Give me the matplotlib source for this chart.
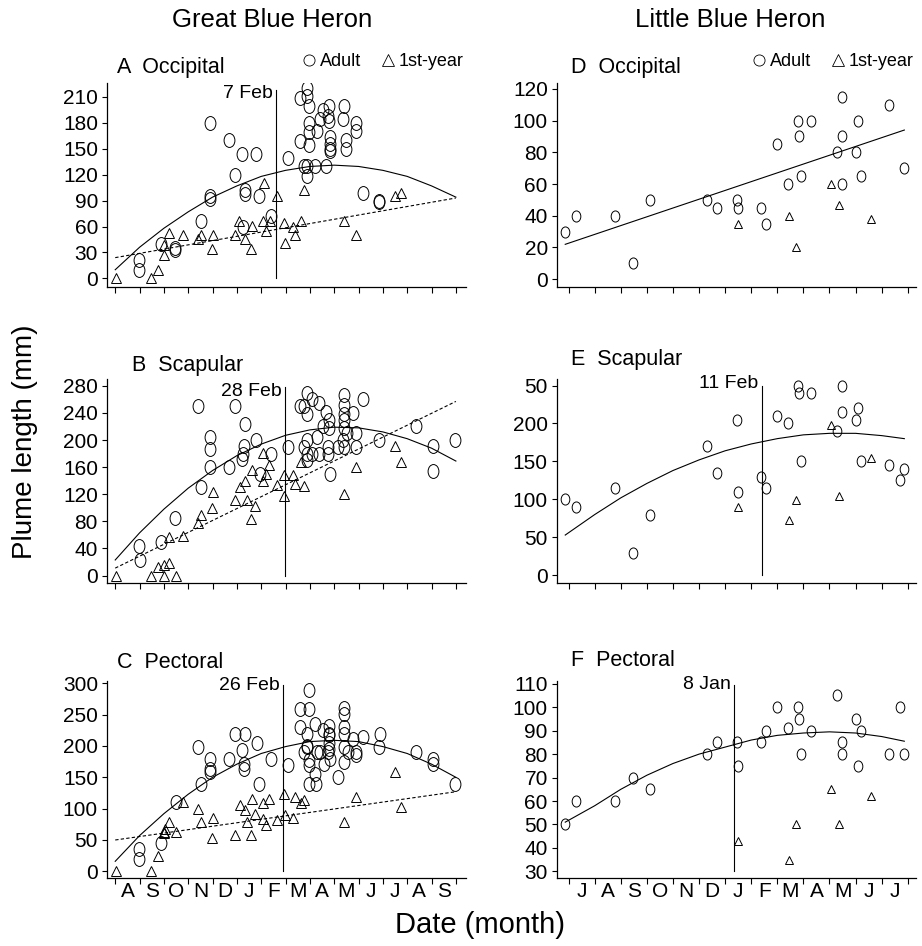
import matplotlib
matplotlib.use("Agg")
import matplotlib.pyplot as plt
from matplotlib.path import Path
from matplotlib.transforms import Affine2D
from matplotlib.lines import Line2D

plt.rcParams['font.family'] = ['Liberation Sans', 'DejaVu Sans']

# months since 1 Aug (Great Blue Heron) / 1 Jul (Little Blue Heron)
gbh_months = ['A', 'S', 'O', 'N', 'D', 'J', 'F', 'M', 'A', 'M', 'J', 'J', 'A', 'S']
lbh_months = ['J', 'A', 'S', 'O', 'N', 'D', 'J', 'F', 'M', 'A', 'M', 'J', 'J']

# ---- Panel A: GBH occipital
a_ad_x = [0.96, 0.96, 1.9, 2.46, 2.46, 3.54, 3.9, 3.9, 3.9, 4.66, 4.93, 5.23, 5.33, 5.33, 5.26,
          5.8, 5.9, 6.4, 7.1, 7.6, 7.6, 7.9, 7.9, 7.95, 7.95, 7.95, 7.98, 7.75, 7.9, 7.9, 8.2,
          8.3, 8.4, 8.54, 8.65, 8.78, 8.75, 8.78, 8.84, 8.84, 8.84, 8.84, 9.4, 9.36, 9.47, 9.47,
          9.88, 9.88, 10.2, 10.86, 10.86]
a_ad_y = [21, 10, 40, 35, 33, 66, 180, 95, 92, 160, 120, 144, 102, 98, 60,
          144, 95, 72, 139, 159, 209, 220, 211, 199, 180, 169, 154, 130, 130, 119, 130,
          170, 184, 195, 130, 200, 188, 182, 164, 155, 150, 147, 200, 184, 160, 150,
          180, 170, 99, 90, 88]
a_fy_x = [0.04, 1.46, 1.76, 2.0, 2.0, 2.23, 2.8, 3.4, 3.54, 3.98, 4.0, 4.93, 5.1, 5.35, 5.6,
          5.64, 6.08, 6.19, 6.35, 6.1, 6.63, 6.93, 6.97, 7.3, 7.4, 7.65, 7.76, 9.4, 9.88,
          11.5, 11.75]
a_fy_y = [0, 0, 10, 27, 39, 52, 50, 45, 50, 34, 50, 50, 66, 45, 34,
          61, 66, 55, 66, 110, 95, 64, 41, 60, 50, 66, 102, 66, 50,
          95, 99]
a_fit_x = [0, 1, 2, 3, 4, 5, 6, 7, 8, 9, 10, 11, 12, 13, 14]
a_fit_ad = [10, 36, 58, 77, 94, 107, 118, 125, 129.5, 131, 129.5, 125, 118, 107, 94]
a_fit_fy_x = [0, 14]
a_fit_fy = [24, 93]

# ---- Panel B: GBH scapular
b_ad_x = [0.96, 1.0, 1.9, 2.46, 3.4, 3.54, 3.9, 3.9, 3.9, 4.66, 4.93, 5.23, 5.25, 5.3, 5.33,
          5.8, 5.95, 6.4, 7.1, 7.6, 7.75, 7.9, 7.9, 7.9, 7.75, 7.9, 7.9, 8.1, 8.1, 8.3, 8.37,
          8.37, 8.54, 8.67, 8.78, 8.78, 8.75, 8.75, 8.84, 9.15, 9.35, 9.42, 9.4, 9.4, 9.4,
          9.4, 9.4, 9.53, 9.77, 9.88, 9.88, 10.2, 10.86, 12.36, 13.05, 13.05, 13.96]
b_ad_y = [44, 23, 49, 85, 250, 130, 205, 187, 160, 160, 250, 172, 180, 191, 224,
          200, 150, 180, 190, 250, 250, 270, 239, 200, 190, 180, 170, 261, 180, 205, 180,
          255, 220, 241, 229, 218, 190, 180, 150, 190, 200, 190, 266, 251, 239,
          229, 218, 210, 240, 210, 190, 261, 200, 220, 191, 154, 200]
b_fy_x = [0.04, 1.46, 1.76, 2.0, 2.0, 2.23, 2.5, 2.23, 2.8, 3.4, 3.54, 3.98, 4.0, 4.93, 5.12,
          5.35, 5.4, 5.6, 5.64, 5.74, 6.08, 6.08, 6.19, 6.3, 6.63, 6.93, 6.95, 7.3, 7.4,
          7.65, 7.76, 9.4, 9.88, 11.5, 11.75]
b_fy_y = [0, 0, 13, 15, 0, 18, 0, 57, 59, 77, 89, 99, 123, 112, 131,
          140, 112, 84, 156, 103, 181, 139, 150, 163, 133, 148, 117, 148, 135,
          168, 132, 121, 160, 191, 168]
b_fit_x = [0, 1, 2, 3, 4, 5, 6, 7, 8, 9, 10, 11, 12, 13, 14]
b_fit_ad = [23, 63, 98, 129, 155, 177, 194, 207, 215, 219, 218, 212, 202, 188, 169]
b_fit_fy_x = [0, 14]
b_fit_fy = [11, 257]

# ---- Panel C: GBH pectoral
c_ad_x = [0.96, 0.96, 1.9, 2.5, 3.4, 3.54, 3.9, 3.9, 3.9, 4.66, 4.93, 5.23, 5.28, 5.28, 5.33,
          5.83, 5.9, 6.4, 7.1, 7.6, 7.6, 7.75, 7.96, 7.96, 7.9, 7.9, 7.9, 7.96, 7.96, 7.96,
          8.2, 8.2, 8.27, 8.3, 8.4, 8.54, 8.6, 8.75, 8.78, 8.78, 8.78, 8.8, 8.8, 8.84, 9.15,
          9.4, 9.4, 9.4, 9.4, 9.4, 9.4, 9.56, 9.77, 9.88, 9.88, 10.2, 10.86, 10.9, 12.36,
          13.05, 13.05, 13.96]
c_ad_y = [35, 20, 45, 111, 199, 140, 180, 164, 158, 180, 219, 194, 172, 164, 219,
          204, 140, 180, 169, 259, 230, 190, 290, 259, 219, 200, 198, 177, 169, 140,
          156, 235, 140, 190, 190, 225, 172, 190, 232, 219, 217, 204, 195, 180, 151,
          261, 251, 230, 219, 199, 174, 190, 211, 190, 185, 214, 199, 219, 190,
          180, 172, 140]
c_fy_x = [0.04, 1.46, 1.76, 2.0, 2.0, 2.03, 2.23, 2.5, 2.8, 3.4, 3.54, 3.98, 4.0, 4.93, 5.12,
          5.35, 5.4, 5.6, 5.64, 5.74, 6.08, 6.08, 6.19, 6.3, 6.63, 6.93, 6.97, 7.3, 7.4,
          7.65, 7.76, 9.4, 9.88, 11.5, 11.75]
c_fy_y = [0, 0, 24, 63, 61, 67, 79, 63, 111, 100, 79, 53, 85, 58, 106,
          98, 79, 58, 115, 92, 109, 83, 74, 116, 82, 124, 90, 85, 119,
          109, 114, 79, 119, 158, 103]
c_fit_x = [0, 1, 2, 3, 4, 5, 6, 7, 8, 9, 10, 11, 12, 13, 14]
c_fit_ad = [16, 57, 92, 123, 150, 171, 188, 199, 207, 209, 207, 199, 188, 171, 150]
c_fit_fy_x = [0, 14]
c_fit_fy = [50, 127]

# ---- Panel D: LBH occipital
d_ad_x = [-0.13, 0.29, 1.76, 2.47, 3.12, 5.3, 5.7, 6.45, 6.5, 7.38, 7.55, 7.97, 8.4, 8.78,
          8.85, 8.9, 9.3, 10.3, 10.47, 10.47, 10.47, 11.0, 11.1, 11.2, 12.3, 12.87]
d_ad_y = [30, 40, 40, 10, 50, 50, 45, 50, 45, 45, 35, 85, 60, 100,
          90, 65, 100, 80, 115, 90, 60, 80, 100, 65, 110, 70]
d_fy_x = [6.5, 8.46, 8.71, 10.04, 10.36, 11.6]
d_fy_y = [35, 40, 20, 60, 47, 38]
d_fit_x = [-0.13, 12.87]
d_fit_ad = [22, 94]

# ---- Panel E: LBH scapular
e_ad_x = [-0.13, 0.29, 1.76, 2.47, 3.12, 5.3, 5.7, 6.45, 6.5, 7.38, 7.55, 7.97, 8.4, 8.78,
          8.85, 8.9, 9.3, 10.3, 10.47, 10.47, 11.0, 11.1, 11.2, 12.3, 12.7, 12.87]
e_ad_y = [100, 90, 115, 30, 80, 170, 135, 205, 110, 130, 115, 210, 200, 250,
          240, 150, 240, 190, 250, 215, 205, 220, 150, 145, 125, 140]
e_fy_x = [6.5, 8.46, 8.71, 10.04, 10.36, 11.6]
e_fy_y = [90, 73, 99, 198, 104, 154]
e_fit_x = [-0.13, 1, 2, 3, 4, 5, 6, 7, 8, 9, 10, 11, 12, 12.87]
e_fit_ad = [53, 80, 102, 121, 138, 152, 164, 173, 180, 185, 187, 187, 184, 180]

# ---- Panel F: LBH pectoral
f_ad_x = [-0.13, 0.29, 1.76, 2.47, 3.12, 5.3, 5.7, 6.45, 6.5, 7.38, 7.55, 7.97, 8.4, 8.78,
          8.85, 8.9, 9.3, 10.3, 10.47, 10.47, 11.0, 11.1, 11.2, 12.3, 12.7, 12.87]
f_ad_y = [50, 60, 60, 70, 65, 80, 85, 85, 75, 85, 90, 100, 91, 100,
          95, 80, 90, 105, 85, 80, 95, 75, 90, 80, 100, 80]
f_fy_x = [6.5, 8.46, 8.71, 10.04, 10.36, 11.6]
f_fy_y = [43, 35, 50, 65, 50, 62]
f_fit_x = [-0.13, 1, 2, 3, 4, 5, 6, 7, 8, 9, 10, 11, 12, 12.87]
f_fit_ad = [51, 58, 65, 71, 76, 80, 83, 86, 88, 89, 89.5, 89, 87.5, 85.5]

# open circle in the scan is a bit taller than wide
ell = Path.unit_circle().transformed(Affine2D().scale(0.78, 1.0))

fig = plt.figure(figsize=(9.22, 9.46), dpi=100)

lx, rx, w = 0.116, 0.604, 0.389
rows = [(0.6966, 0.2156), (0.3837, 0.2156), (0.0719, 0.2078)]


def setup(ax, xlim, ylim, yticks, nmonths, months, show_months, ylabels=None):
    ax.set_xlim(*xlim)
    ax.set_ylim(*ylim)
    for s in ['top', 'right']:
        ax.spines[s].set_visible(False)
    for s in ['left', 'bottom']:
        ax.spines[s].set_linewidth(0.9)
    ax.set_yticks(yticks)
    if ylabels is not None:
        ax.set_yticklabels(ylabels)
    ax.set_xticks(range(nmonths + 1))
    ax.set_xticklabels([])
    ax.tick_params(axis='y', direction='out', length=3.5, width=0.8, labelsize=15, pad=3)
    ax.tick_params(axis='x', which='major', direction='out', length=4, width=0.8)
    if show_months:
        ax.set_xticks([i + 0.5 for i in range(len(months))], minor=True)
        ax.set_xticklabels(months, minor=True)
        ax.tick_params(axis='x', which='minor', length=0, labelsize=15, pad=3)


def draw(ax, ad_x, ad_y, fy_x, fy_y, ms_c, ms_t):
    ax.plot(ad_x, ad_y, linestyle='none', marker=ell, markersize=ms_c,
            markerfacecolor='none', markeredgecolor='black', markeredgewidth=0.7)
    ax.plot(fy_x, fy_y, linestyle='none', marker='^', markersize=ms_t,
            markerfacecolor='none', markeredgecolor='black', markeredgewidth=0.7)


def vline(ax, x, y0, y1, label, ylab):
    ax.plot([x, x], [y0, y1], color='black', lw=0.8)
    ax.text(x - 0.12, ylab, label, ha='right', va='center', fontsize=14)


def panel_label(ax, x, y, s):
    ax.text(x, y, s, transform=ax.transAxes, fontsize=15.5, va='baseline')


h = [Line2D([], [], linestyle='none', marker='o', markersize=8, markerfacecolor='none',
            markeredgecolor='black', markeredgewidth=0.6),
     Line2D([], [], linestyle='none', marker='^', markersize=8, markerfacecolor='none',
            markeredgecolor='black', markeredgewidth=0.6)]


def legend(ax):
    ax.legend(h, ['Adult', '1st-year'], loc='lower right', bbox_to_anchor=(1.03, 1.0), ncol=2,
              frameon=False, fontsize=13, handletextpad=0.1, columnspacing=1.0,
              handlelength=1.0, borderpad=0.2)


# A
ax = fig.add_axes([lx, rows[0][0], w, rows[0][1]])
setup(ax, (-0.34, 14.4), (-10, 226), [0, 30, 60, 90, 120, 150, 180, 210], 14, gbh_months, False)
draw(ax, a_ad_x, a_ad_y, a_fy_x, a_fy_y, 10, 7)
ax.plot(a_fit_x, a_fit_ad, color='black', lw=0.8)
ax.plot(a_fit_fy_x, a_fit_fy, color='black', lw=0.8, linestyle=(0, (3, 2)))
vline(ax, 6.6, 0, 218, '7 Feb', 214)
panel_label(ax, 0.028, 1.05, 'A  Occipital')
legend(ax)

# B
ax = fig.add_axes([lx, rows[1][0], w, rows[1][1]])
setup(ax, (-0.34, 14.4), (-11, 290), [0, 40, 80, 120, 160, 200, 240, 280], 14, gbh_months, False)
draw(ax, b_ad_x, b_ad_y, b_fy_x, b_fy_y, 10, 7)
ax.plot(b_fit_x, b_fit_ad, color='black', lw=0.8)
ax.plot(b_fit_fy_x, b_fit_fy, color='black', lw=0.8, linestyle=(0, (3, 2)))
vline(ax, 6.97, 0, 278, '28 Feb', 271)
panel_label(ax, 0.07, 1.04, 'B  Scapular')

# C
ax = fig.add_axes([lx, rows[2][0], w, rows[2][1]])
setup(ax, (-0.34, 14.4), (-10.6, 303), [0, 50, 100, 150, 200, 250, 300], 14, gbh_months, True)
draw(ax, c_ad_x, c_ad_y, c_fy_x, c_fy_y, 10, 7)
ax.plot(c_fit_x, c_fit_ad, color='black', lw=0.8)
ax.plot(c_fit_fy_x, c_fit_fy, color='black', lw=0.8, linestyle=(0, (3, 2)))
vline(ax, 6.9, 0, 298, '26 Feb', 297)
panel_label(ax, 0.028, 1.07, 'C  Pectoral')

# D
ax = fig.add_axes([rx, rows[0][0], w, rows[0][1]])
setup(ax, (-0.45, 13.3), (-4.9, 123.6), [0, 20, 40, 60, 80, 100, 120], 13, lbh_months, False)
draw(ax, d_ad_x, d_ad_y, d_fy_x, d_fy_y, 8, 6)
ax.plot(d_fit_x, d_fit_ad, color='black', lw=0.8)
panel_label(ax, 0.04, 1.05, 'D  Occipital')
legend(ax)

# E
ax = fig.add_axes([rx, rows[1][0], w, rows[1][1]])
setup(ax, (-0.45, 13.3), (-10.2, 258.5), [0, 50, 100, 150, 200, 250], 13, lbh_months, False,
      ['0', '50', '100', '150', '200', '50'])
draw(ax, e_ad_x, e_ad_y, e_fy_x, e_fy_y, 8, 6)
ax.plot(e_fit_x, e_fit_ad, color='black', lw=0.8)
vline(ax, 7.4, 0, 249, '11 Feb', 252)
panel_label(ax, 0.04, 1.07, 'E  Scapular')

# F
ax = fig.add_axes([rx, rows[2][0], w, rows[2][1]])
setup(ax, (-0.45, 13.3), (27.2, 111), [30, 40, 50, 60, 70, 80, 90, 100, 110], 13, lbh_months, True)
draw(ax, f_ad_x, f_ad_y, f_fy_x, f_fy_y, 8, 6)
ax.plot(f_fit_x, f_fit_ad, color='black', lw=0.8)
vline(ax, 6.35, 30, 109.6, '8 Jan', 109.5)
panel_label(ax, 0.04, 1.077, 'F  Pectoral')

fig.text(0.295, 0.979, 'Great Blue Heron', ha='center', va='center', fontsize=18.5)
fig.text(0.792, 0.979, 'Little Blue Heron', ha='center', va='center', fontsize=18.5)
fig.text(0.027, 0.533, 'Plume length (mm)', rotation=90, ha='center', va='center', fontsize=20)
fig.text(0.521, 0.022, 'Date (month)', ha='center', va='center', fontsize=21)

fig.savefig('out.png', dpi=100)
